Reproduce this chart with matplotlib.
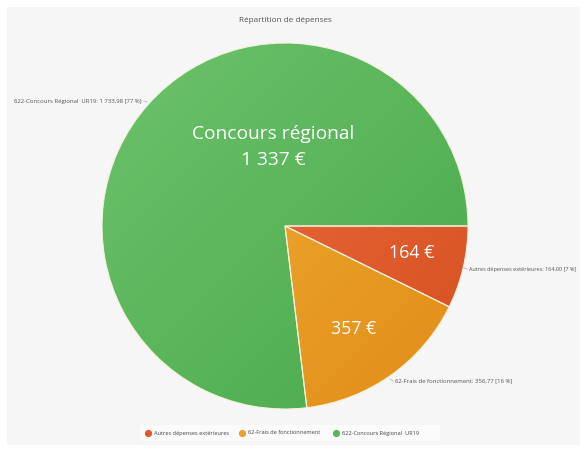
import matplotlib
matplotlib.use("Agg")
import matplotlib.pyplot as plt
import numpy as np
from matplotlib.patches import Rectangle
from matplotlib.lines import Line2D
from matplotlib.colors import LinearSegmentedColormap

plt.rcParams["font.family"] = ["Open Sans", "DejaVu Sans"]

categories = ["Autres dépenses extérieures", "62-Frais de fonctionnement", "622-Concours Régional  UR19"]
values = [164.00, 356.77, 1733.98]
percents = [7, 16, 77]
value_labels = ["164,00", "356,77", "1 733,98"]
inner_labels = ["164 €", "357 €", "Concours régional\n1 337 €"]
colors_light = ["#f07347", "#f4b23e", "#6cc26b"]
colors_dark = ["#d64f1f", "#e08d15", "#4aa94c"]
colors_legend = ["#e4572a", "#eea02a", "#5bb75b"]

fig = plt.figure(figsize=(5.85, 4.5), dpi=100)
fig.patch.set_facecolor("white")
ax = fig.add_axes([0, 0, 1, 1])

cx, cy, r = 285, 224, 183
wedges, _ = ax.pie(values, center=(cx, cy), radius=r, startangle=0, counterclock=False,
                   colors=colors_legend, wedgeprops=dict(edgecolor="#f4f1dc", linewidth=0.8),
                   frame=True)
ax.set_xlim(0, 585)
ax.set_ylim(0, 450)
ax.set_aspect("equal")
ax.axis("off")

# grey panel
ax.add_patch(Rectangle((7, 5), 573, 438, facecolor="#f6f6f6", edgecolor="none", zorder=0))

# gradient fill per wedge (light at top-left, darker at bottom-right)
yy, xx = np.mgrid[0:1:200j, 0:1:200j]
grad = (xx + yy) / 2
for w, c1, c2 in zip(wedges, colors_light, colors_dark):
    cmap = LinearSegmentedColormap.from_list("g", [c1, c2])
    im = ax.imshow(grad, cmap=cmap, extent=(cx - r, cx + r, cy - r, cy + r),
                   origin="upper", zorder=1.5, interpolation="bilinear")
    im.set_clip_path(w)
    w.set_facecolor("none")
    w.set_zorder(2)
ax.set_xlim(0, 585)
ax.set_ylim(0, 450)
ax.set_aspect("equal")

# inner labels
ax.text(412, 450 - 253, inner_labels[0], color="white", fontsize=12.8, ha="center", va="center", zorder=3)
ax.text(354, 450 - 329, inner_labels[1], color="white", fontsize=12.8, ha="center", va="center", zorder=3)
ax.text(273, 450 - 147, inner_labels[2], color="white", fontsize=13.8, ha="center", va="center",
        linespacing=1.6, zorder=3)

# outer labels
lab_col = "#555555"
outer = [(469, 450 - 269, "left", 4.0), (395, 450 - 381, "left", 4.3), (142, 450 - 101, "right", 4.35)]
for (x, y, ha, fs), cat, v, p in zip(outer, categories, value_labels, percents):
    ax.text(x, y, f"{cat}: {v} [{p} %]", fontsize=fs, color=lab_col, ha=ha, va="center", zorder=3)
ax.add_line(Line2D([464, 467], [450 - 268, 450 - 269], color="#bbbbbb", lw=0.6))
ax.add_line(Line2D([390, 393], [450 - 379, 450 - 381], color="#bbbbbb", lw=0.6))
ax.add_line(Line2D([144, 147], [450 - 101, 450 - 102], color="#bbbbbb", lw=0.6))

# title
ax.text(285, 450 - 20, "Répartition de dépenses", fontsize=5.9, color="#555555", ha="center", va="center")

# legend
ax.add_patch(Rectangle((140, 450 - 441), 300, 16, facecolor="#fbfbfb", edgecolor="none", zorder=1))
leg_x = [148, 242, 336]
for x, cat, c in zip(leg_x, categories, colors_legend):
    ax.plot(x, 450 - 433, "o", color=c, markersize=4.2, zorder=3)
    ax.text(x + 6, 450 - 433, cat, fontsize=4.1, color="#444444", ha="left", va="center", zorder=3)

fig.savefig("out.png", dpi=100, facecolor="white")
